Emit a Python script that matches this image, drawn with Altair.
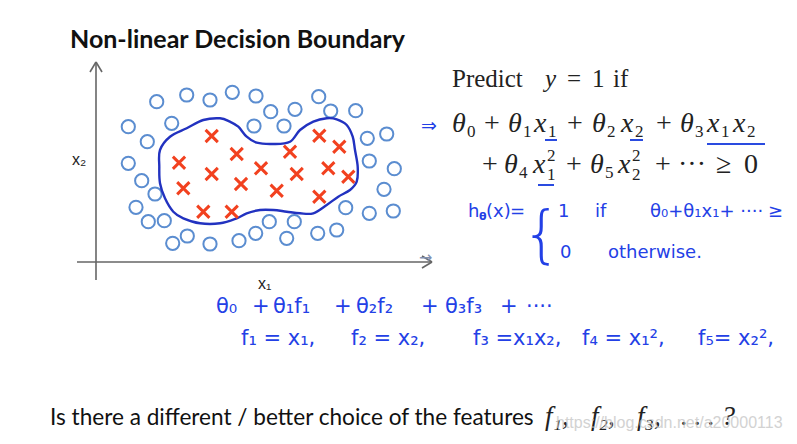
import altair as alt
import pandas as pd

# ---------------- data (slide pixel units) ----------------
circle_x = [156.7, 186.7, 210, 232.3, 256, 318.7, 270.7, 295, 330.7, 355.7,
            128.3, 171.7, 254, 284, 367.3, 386.7, 147.3, 128.3, 141.7, 155,
            136, 148.3, 164.3, 172.7, 187.3, 210, 239, 255.7, 269.3, 294.3,
            286.7, 317.7, 336.7, 345.7, 369.3, 393.3, 384, 394.3, 369.3]
circle_y = [101.7, 95, 100, 92.3, 96, 96.7, 111.7, 109.3, 111, 110.7,
            126.7, 123.3, 126, 126, 138.3, 134, 141.7, 163.3, 180.7, 194,
            207.3, 221.7, 220.7, 243.3, 236, 244, 240.7, 233.3, 221.7, 221.7,
            238.3, 233.3, 230, 207.7, 213.3, 211, 189.3, 168.7, 161]

cross_x = [211.7, 236.7, 179, 211.7, 183.3, 241, 261, 276.7, 290, 296.7,
           319.3, 339.3, 328.3, 348.3, 319.3, 203.3, 231.7]
cross_y = [136, 154, 162.7, 174, 188.3, 184, 168.3, 190.7, 151.7, 174,
           135.7, 146.7, 168.3, 176.7, 196.7, 211.7, 211.7]

boundary_x = [160, 170, 186.7, 203.3, 220, 230, 238.3, 246.7, 256.7, 273.3,
              290, 300, 313.3, 326.7, 336.7, 346.7, 352.7, 355, 357.7, 356.7,
              350, 338.3, 326.7, 313.3, 300, 286.7, 273.3, 260, 246.7, 236.7,
              220, 200, 183.3, 173.3, 165, 160, 159.3]
boundary_y = [150, 136.7, 128.3, 120, 118.3, 121.7, 126.7, 136.7, 142.7, 144,
              141.7, 130, 121.7, 118.3, 119.3, 125, 136.7, 150, 166.7, 181.7,
              190, 196.7, 205, 213.3, 213.3, 211.7, 210, 210, 213.3, 218.3,
              223.3, 223.3, 218.3, 211.7, 198.3, 183.3, 166.7]

# axis segments (x, y, x2, y2)
axis_x = [96, 96, 96, 77, 432, 432]
axis_y = [280, 62, 62, 262, 262, 262]
axis_x2 = [96, 90, 102, 432, 422, 422]
axis_y2 = [62, 72, 72, 262, 256, 268]

# blue underlines (x, x2, y)
ul_x = [545, 630, 707, 538]
ul_x2 = [557, 643, 765, 554]
ul_y = [140, 140, 144, 185]

# equation tokens: text, x, baseline
eq_italic_t = ["θ", "θ", "x", "θ", "x", "θ", "x", "x", "θ", "x", "θ", "x"]
eq_italic_x = [452, 508, 534, 592, 621, 680, 707, 733, 504, 533, 590, 618]
eq_italic_y = [132, 132, 132, 132, 132, 132, 132, 132, 173, 173, 173, 173]

eq_up_t = ["+", "+", "+", "+", "+", "+", "···", "≥", "0"]
eq_up_x = [484, 567, 656, 482, 566, 655, 678, 716, 744]
eq_up_y = [132, 132, 132, 173, 173, 173, 173, 173, 173]

eq_small_t = ["0", "1", "1", "2", "2", "3", "1", "2",
              "4", "1", "2", "5", "2", "2"]
eq_small_x = [467, 523, 548, 607, 635, 695, 721, 747,
              519, 547, 547, 605, 632, 632]
eq_small_y = [137, 137, 137, 137, 137, 137, 137, 137,
              178, 180, 161, 178, 180, 161]

predict_t = ["Predict", "=", "1", "if"]
predict_x = [452, 567, 592, 613]
predict_y = [87, 87, 87, 87]
predict_it_t = ["y"]
predict_it_x = [545]
predict_it_y = [87]

# handwritten tokens (h line)
hh_t = ["h", "(x)", "=", "1", "if", "θ₀+θ₁x₁+ ····", "≥",
        "0", "otherwise."]
hh_x = [468, 486, 510, 558, 595, 650, 768,
        560, 608]
hh_y = [217, 217, 217, 217, 217, 217, 217,
        258, 258]
hh_sub_t = ["θ"]
hh_sub_x = [479]
hh_sub_y = [220]

# handwritten tokens (feature lines)
hf_t = ["θ₀", "+", "θ₁f₁", "+", "θ₂f₂", "+", "θ₃f₃", "+", "····",
        "f₁ = x₁,", "f₂ = x₂,", "f₃ =x₁x₂,", "f₄ = x₁²,", "f₅= x₂²,"]
hf_x = [216, 252, 273, 334, 356, 421, 445, 500, 526,
        241, 351, 473, 582, 698]
hf_y = [313, 313, 313, 313, 313, 313, 313, 313, 313,
        345, 345, 345, 345, 345]

# ---------------- frames ----------------
circles = pd.DataFrame({"x": circle_x, "y": circle_y})
crosses = pd.DataFrame({"x": cross_x, "y": cross_y})
boundary = pd.DataFrame({"x": boundary_x, "y": boundary_y,
                         "i": list(range(len(boundary_x)))})
axes = pd.DataFrame({"x": axis_x, "y": axis_y, "x2": axis_x2, "y2": axis_y2})
underl = pd.DataFrame({"x": ul_x, "x2": ul_x2, "y": ul_y, "y2": ul_y})

W, H = 781, 428
xs = alt.Scale(domain=[8, 8 + W], nice=False, zero=False)
ys = alt.Scale(domain=[8, 8 + H], nice=False, zero=False, reverse=True)


def X(f="x"):
    return alt.X(f"{f}:Q", scale=xs, axis=None)


def Y(f="y"):
    return alt.Y(f"{f}:Q", scale=ys, axis=None)


def text_layer(texts, xs_, ys_, **kw):
    df = pd.DataFrame({"x": xs_, "y": ys_, "t": texts})
    return alt.Chart(df).mark_text(align="left", baseline="alphabetic", **kw).encode(
        x=X(), y=Y(), text="t:N")


axis_layer = alt.Chart(axes).mark_rule(color="#666666", strokeWidth=1.6).encode(
    x=X(), y=Y(), x2="x2:Q", y2="y2:Q")

circle_layer = alt.Chart(circles).mark_point(
    shape="circle", filled=False, size=175, strokeWidth=2, color="#5b8dd0", opacity=1
).encode(x=X(), y=Y())

cross_layer = alt.Chart(crosses).mark_point(
    shape="M-1,-1L1,1M-1,1L1,-1", filled=False, size=150, strokeWidth=3,
    color="#f2411f", opacity=1
).encode(x=X(), y=Y())

boundary_layer = alt.Chart(boundary).mark_line(
    interpolate="cardinal-closed", color="#2232c0", strokeWidth=2.4
).encode(x=X(), y=Y(), order="i:Q")

underline_layer = alt.Chart(underl).mark_rule(color="#2a4be0", strokeWidth=2).encode(
    x=X(), x2="x2:Q", y=Y(), y2="y2:Q")

title = text_layer(["Non-linear Decision Boundary"], [70], [48],
                   font="Lato", fontSize=25, fontWeight="bold", color="#111111")
axis_labels = text_layer(["x₂", "x₁"], [72, 258], [165, 289],
                         font="Liberation Sans", fontSize=16, color="#222222")

serif = dict(font="Liberation Serif", color="#222222")
predict = text_layer(predict_t, predict_x, predict_y, fontSize=25, **serif)
predict_it = text_layer(predict_it_t, predict_it_x, predict_it_y, fontSize=25,
                        fontStyle="italic", **serif)
eq_it = text_layer(eq_italic_t, eq_italic_x, eq_italic_y, fontSize=28,
                   fontStyle="italic", **serif)
eq_up = text_layer(eq_up_t, eq_up_x, eq_up_y, fontSize=28, **serif)
eq_small = text_layer(eq_small_t, eq_small_x, eq_small_y, fontSize=17, **serif)

blue = "#2340e6"
hand_h = text_layer(hh_t, hh_x, hh_y, font="DejaVu Sans", fontSize=18, color=blue)
hand_h_sub = text_layer(hh_sub_t, hh_sub_x, hh_sub_y, font="DejaVu Sans",
                        fontSize=11, fontWeight="bold", color=blue)
hand_f = text_layer(hf_t, hf_x, hf_y, font="DejaVu Sans", fontSize=21, color=blue)
arrow1 = text_layer(["⇒"], [421], [132], font="DejaVu Sans", fontSize=19,
                    color=blue)
arrow2 = text_layer(["→"], [419], [263], font="DejaVu Sans", fontSize=16,
                    color="#8090b0")
brace = text_layer(["{"], [522], [255], fontSize=62, font="DejaVu Sans",
                   fontWeight=200, color=blue)

bottom = text_layer(["Is there a different / better choice of the features"], [50], [425],
                    font="Lato", fontSize=22.6, color="#111111")
bottom_f = text_layer(["f₁,", "f₂,", "f₃,", ". . . ?"], [545, 591, 637, 681],
                      [425, 425, 425, 425],
                      font="Liberation Serif", fontSize=27, fontStyle="italic",
                      color="#222222")
watermark = text_layer(["https://blog.csdn.net/a20000113"], [556], [428],
                       font="Liberation Sans", fontSize=16, color="#c4c4c4",
                       opacity=0.75)

chart = alt.layer(
    axis_layer, circle_layer, boundary_layer, cross_layer, underline_layer,
    title, axis_labels, predict, predict_it, eq_it, eq_up, eq_small,
    hand_h, hand_h_sub, hand_f, arrow1, arrow2, brace, bottom, bottom_f, watermark
).properties(
    width=W, height=H, padding=0, autosize=alt.AutoSizeParams(type="none"),
    background="white"
).configure_view(stroke=None)

chart.save("out.html", embed_options={"renderer": "svg", "actions": False})
